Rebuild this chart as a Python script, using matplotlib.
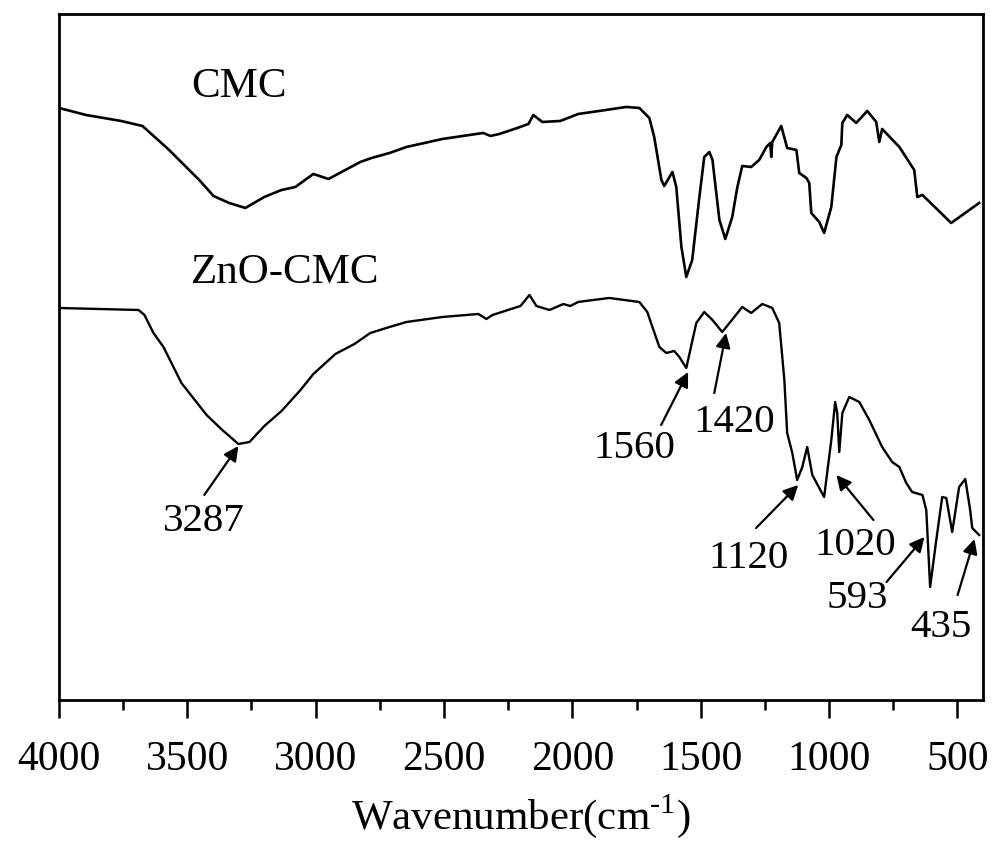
import matplotlib
matplotlib.use("Agg")
import matplotlib.pyplot as plt

plt.rcParams["font.family"] = ["Liberation Serif", "DejaVu Serif"]
plt.rcParams["mathtext.fontset"] = "custom"
plt.rcParams["mathtext.rm"] = "Liberation Serif"

# FTIR spectra, wavenumber (cm-1) vs transmittance (arbitrary units, offset)
cmc_wn = [4000, 3895, 3758, 3675, 3575, 3450, 3398, 3337, 3274, 3200, 3133, 3079,
          3009, 2950, 2826, 2782, 2712, 2646, 2506, 2347,
          2319, 2284, 2214, 2171, 2152, 2117, 2047, 1977, 1895, 1790, 1739, 1700,
          1681, 1653, 1642, 1610, 1595, 1575, 1556, 1533, 1505, 1486, 1466, 1454,
          1427, 1404, 1377, 1357, 1338, 1303, 1272, 1244, 1229, 1225, 1221, 1186,
          1163, 1127, 1116, 1088, 1077, 1069, 1038, 1019, 991, 971, 952, 948, 929,
          894, 851, 816, 804, 793, 726, 668, 656, 636, 524, 415]
cmc_t = [592, 585, 579, 574, 551, 519, 504, 497, 492, 503, 510, 513,
         526, 521, 538, 542, 547, 553, 561, 567,
         564, 566, 572, 576, 585, 578, 579, 586, 589, 593, 592, 582,
         563, 520, 514, 528, 513, 453, 423, 440, 503, 543, 548, 540,
         480, 461, 483, 513, 534, 533, 540, 553, 557, 543, 558, 574,
         552, 550, 527, 522, 517, 487, 478, 467, 493, 543, 555, 577, 585,
         577, 589, 578, 558, 571, 553, 530, 503, 505, 477, 497]

zno_wn = [4000, 3690, 3667, 3632, 3593, 3523, 3425, 3368, 3301, 3258, 3200, 3133,
          3059, 3009, 2923, 2849, 2787, 2712, 2646, 2506, 2366, 2335, 2311, 2202,
          2167, 2140, 2089, 2035, 2008,
          1977, 1949, 1856, 1739, 1708, 1688, 1661, 1634, 1603, 1583, 1556, 1517,
          1486, 1454, 1416, 1369, 1338, 1303, 1260, 1221, 1194, 1174, 1163, 1143,
          1124, 1104, 1085, 1065, 1019, 991, 976, 968, 960, 948, 921, 882, 843,
          793, 754, 726, 699, 676, 636, 621, 606, 582, 559, 543, 520, 493, 469,
          450, 442, 415]
zno_t = [392, 390, 385, 367, 353, 317, 285, 271, 256, 258, 274, 289,
         310, 326, 346, 356, 367, 373, 378, 383, 386, 381, 385, 394,
         405, 394, 390, 396, 394,
         398, 399, 402, 398, 388, 373, 353, 347, 349, 343, 332, 377,
         388, 380, 368, 383, 393, 387, 396, 392, 377, 320, 267, 247,
         220, 233, 253, 225, 203, 260, 298, 287, 248, 287, 303, 298, 280,
         253, 238, 233, 217, 208, 205, 190, 113, 160, 203, 202, 168, 213, 221,
         190, 172, 165]

# peak labels: text, text position, arrow tail, arrow head
peak_labels = ["3287", "1560", "1420", "1120", "1020", "593", "435"]
label_pos = [(3434, 169), (1760, 242), (1369, 268), (1315, 132), (897, 145), (889, 92), (565, 63)]
arrow_tail = [(3434, 205), (1654, 275), (1447, 307), (1284, 172), (827, 180), (776, 118), (499, 105)]
arrow_head = [(3301, 254), (1549, 328), (1401, 367), (1120, 215), (971, 225), (628, 163), (433, 161)]

fig = plt.figure(figsize=(10, 8.67), dpi=100)
ax = fig.add_axes([0.059, 0.1926, 0.924, 0.7913])

ax.plot(cmc_wn, cmc_t, color="black", lw=1.9)
ax.plot(zno_wn, zno_t, color="black", lw=1.7)

ax.text(3297, 603, "CMC", fontsize=31, ha="center", va="baseline")
ax.text(3118, 417, "ZnO-CMC", fontsize=31, ha="center", va="baseline")

for lab, pos, tail, head in zip(peak_labels, label_pos, arrow_tail, arrow_head):
    ax.annotate("", xy=head, xytext=tail,
                arrowprops=dict(arrowstyle="-|>", color="black", lw=1.6,
                                mutation_scale=22, shrinkA=0, shrinkB=0))
    ax.text(pos[0], pos[1], lab, fontsize=29.5, ha="center", va="baseline")

ax.set_xlim(4000, 400)
ax.set_ylim(0, 686)
ax.set_xticks([4000, 3500, 3000, 2500, 2000, 1500, 1000, 500])
ax.set_xticks([3750, 3250, 2750, 2250, 1750, 1250, 750], minor=True)
ax.set_yticks([])
ax.tick_params(axis="x", which="major", direction="out", length=13, width=1.8,
               labelsize=30, pad=16)
ax.tick_params(axis="x", which="minor", direction="out", length=7, width=1.8)
for sp in ax.spines.values():
    sp.set_linewidth(2)

ax.set_xlabel(r"Wavenumber(cm$^{\text{-}1}$)", fontsize=31, labelpad=10)

fig.savefig("out.png", dpi=100)
